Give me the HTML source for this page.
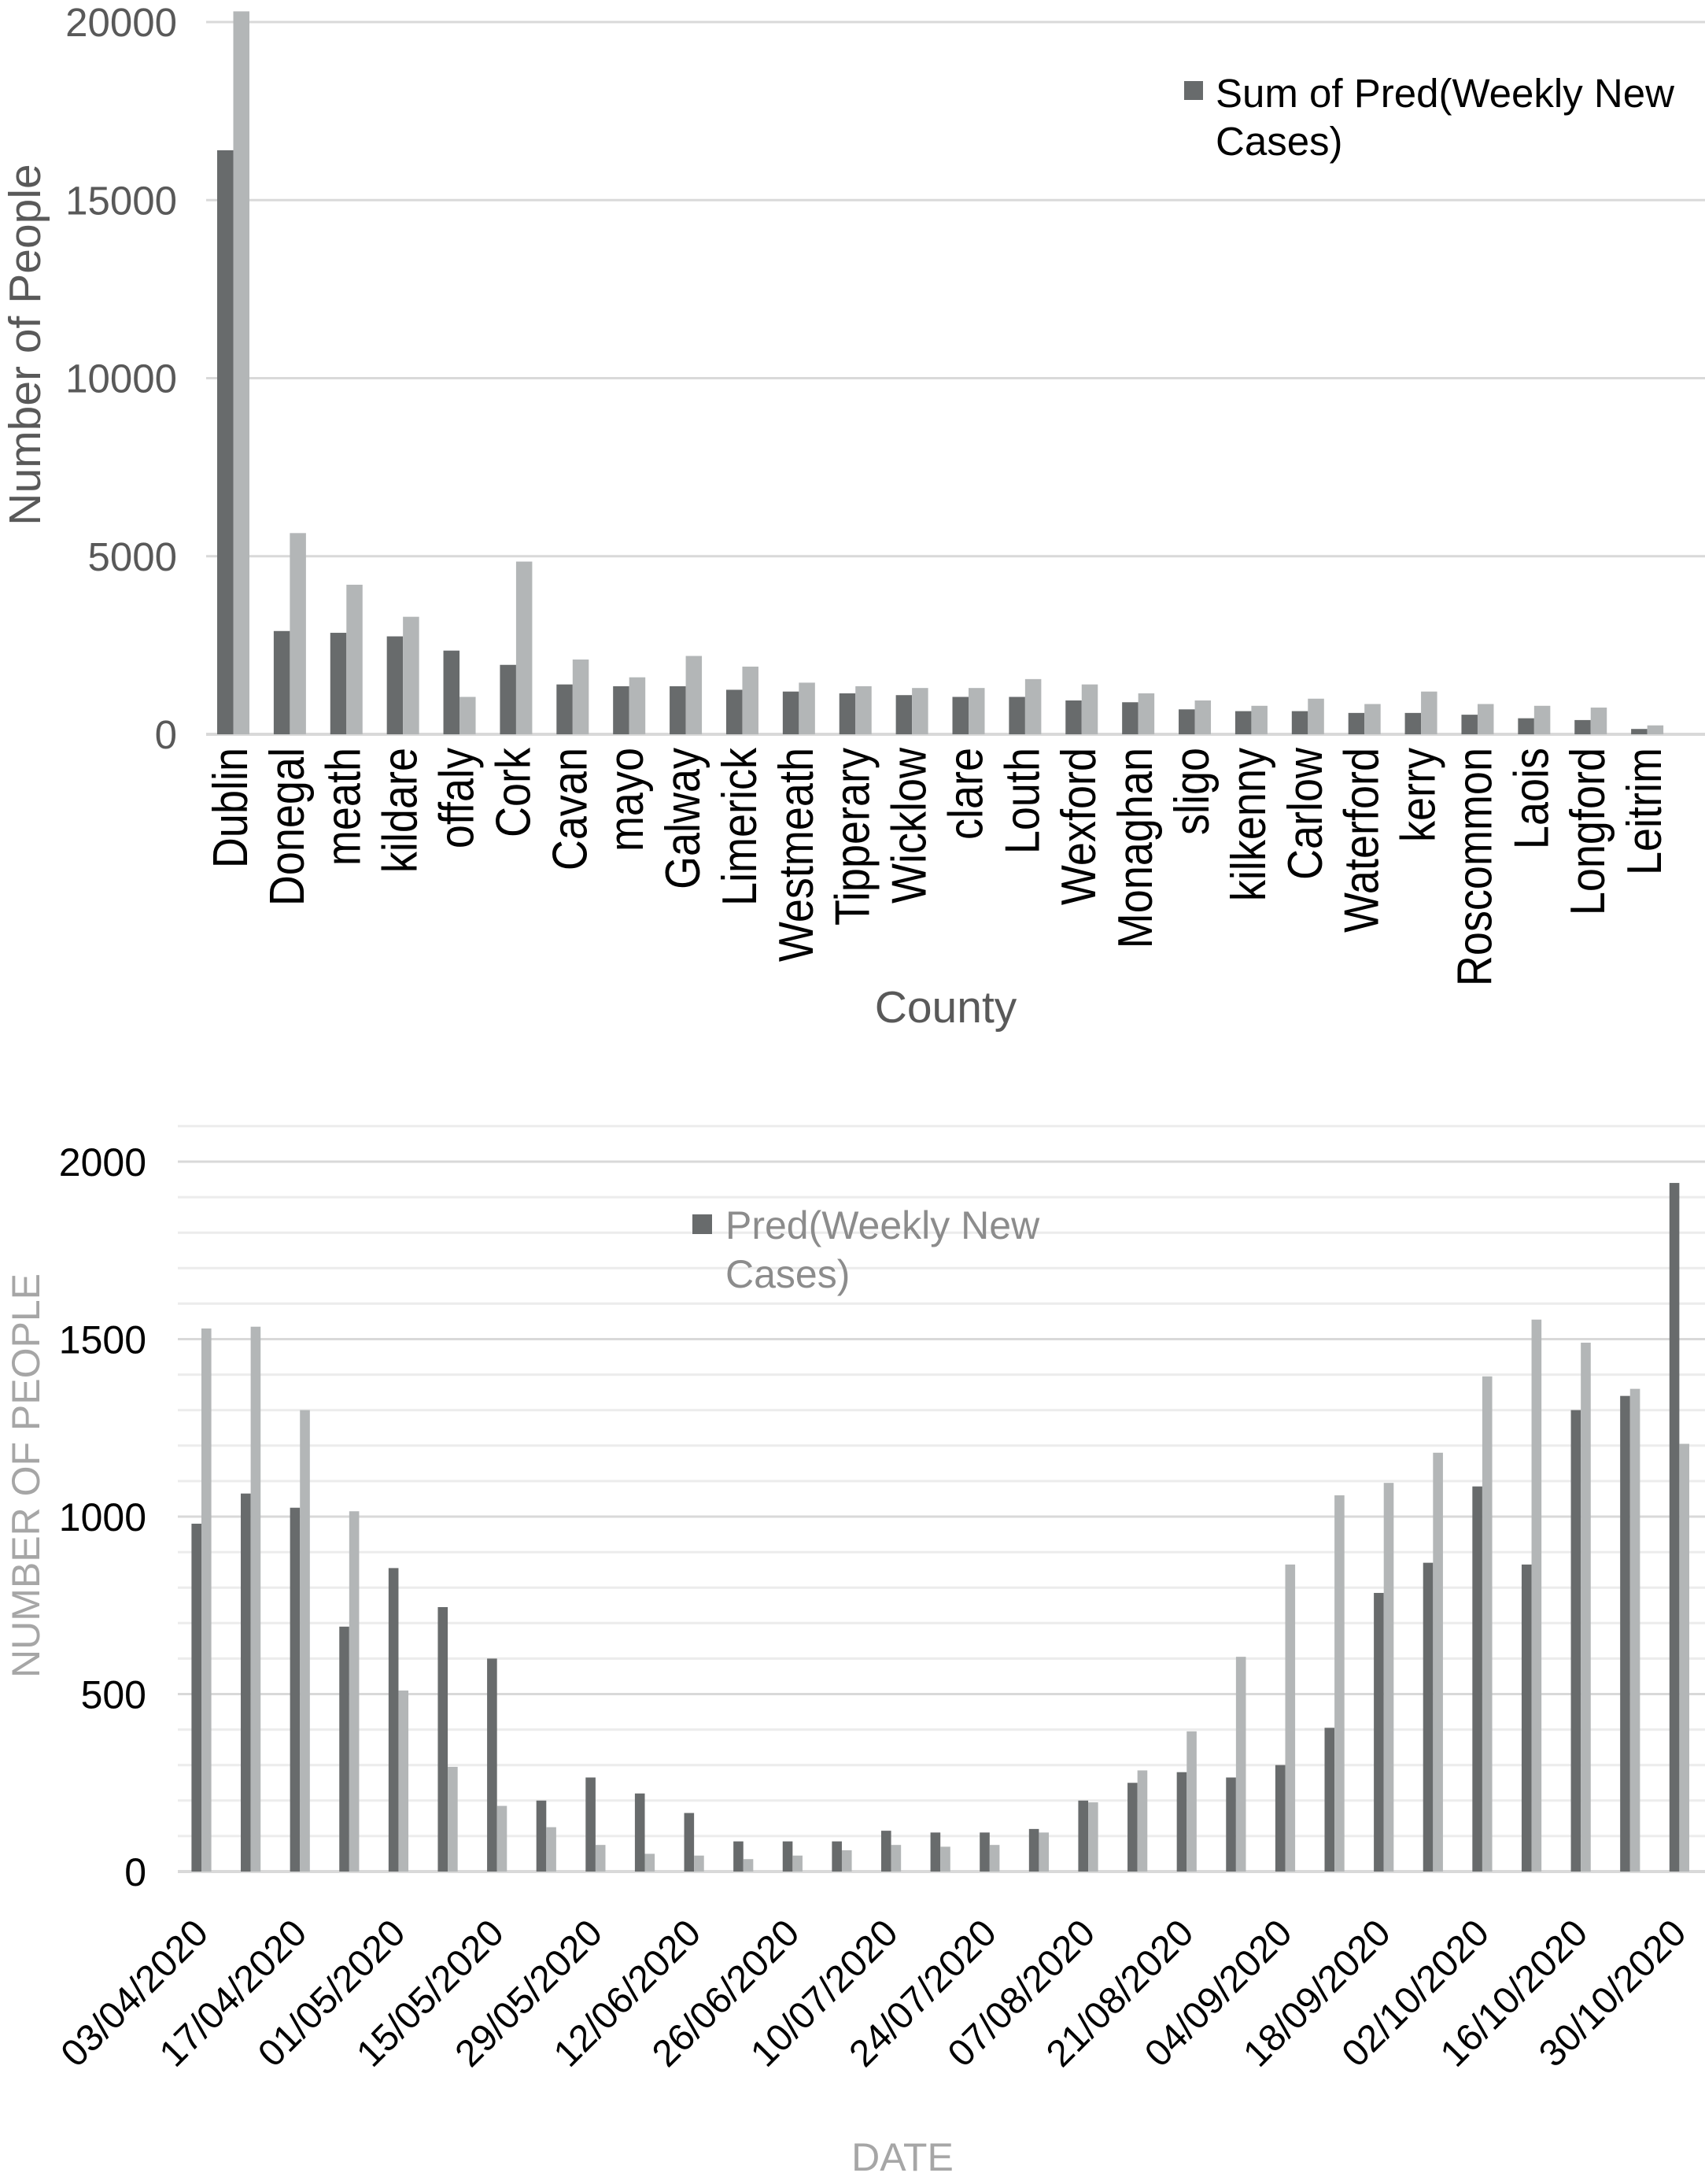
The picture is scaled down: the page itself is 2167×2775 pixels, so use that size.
<!DOCTYPE html>
<html><head><meta charset="utf-8"><style>
html,body{margin:0;padding:0;background:#fff;}
svg{display:block;font-family:"Liberation Sans",Arial,sans-serif;}
</style></head><body>
<svg id="chart" width="2167" height="2775" viewBox="0 0 2167 2775" xmlns="http://www.w3.org/2000/svg">
<g id="topChart"></g>
<g id="bottomChart"></g>
</svg>
<script>
const counties = ["Dublin","Donegal","meath","kildare","offaly","Cork","Cavan","mayo","Galway","Limerick","Westmeath","Tipperary","Wicklow","clare","Louth","Wexford","Monaghan","sligo","kilkenny","Carlow","Waterford","kerry","Roscommon","Laois","Longford","Leitrim"];
const countyPred = [16400,2900,2850,2750,2350,1950,1400,1350,1350,1250,1200,1150,1100,1050,1050,950,900,700,650,650,600,600,550,450,400,150];
const countyActual = [20300,5650,4200,3300,1050,4850,2100,1600,2200,1900,1450,1350,1300,1300,1550,1400,1150,950,800,1000,850,1200,850,800,750,250];
const countyTicks = [0,5000,10000,15000,20000];

const dates = ["03/04/2020","10/04/2020","17/04/2020","24/04/2020","01/05/2020","08/05/2020","15/05/2020","22/05/2020","29/05/2020","05/06/2020","12/06/2020","19/06/2020","26/06/2020","03/07/2020","10/07/2020","17/07/2020","24/07/2020","31/07/2020","07/08/2020","14/08/2020","21/08/2020","28/08/2020","04/09/2020","11/09/2020","18/09/2020","25/09/2020","02/10/2020","09/10/2020","16/10/2020","23/10/2020","30/10/2020"];
const datePred = [980,1065,1025,690,855,745,600,200,265,220,165,85,85,85,115,110,110,120,200,250,280,265,300,405,785,870,1085,865,1300,1340,1940];
const dateActual = [1530,1535,1300,1015,510,295,185,125,75,50,45,35,45,60,75,70,75,110,195,285,395,605,865,1060,1095,1180,1395,1555,1490,1360,1205];
const dateTicks = [0,500,1000,1500,2000];

const NS="http://www.w3.org/2000/svg";
function mk(parent,tag,attrs,text){const e=document.createElementNS(NS,tag);for(const k in attrs)e.setAttribute(k,attrs[k]);if(text!==undefined)e.textContent=text;parent.appendChild(e);return e;}
const DARK="#686b6c", LIGHT="#b3b6b7";

// ---- top chart ----
const topG=document.getElementById('topChart');
const tL=262,tR=2131,t0=933,tTop=28,tMax=20000;
const ty=v=>t0-(v/tMax)*(t0-tTop);
const tStep=(tR-tL)/counties.length;
countyTicks.forEach(v=>{
  const l=mk(topG,'line',{x1:tL,x2:2167,y1:ty(v),y2:ty(v),stroke:"#d9d9d9","stroke-width":v===0?4:3});
  
  
  const t=mk(topG,'text',{x:225,y:ty(v)+18,"text-anchor":"end","font-size":51,fill:"#595959"},String(v));
  
  
});
counties.forEach((c,i)=>{
  const x0=tL+i*tStep;
  const b1=mk(topG,'rect',{x:x0+14,y:ty(countyPred[i]),width:20.5,height:t0-ty(countyPred[i]),fill:DARK});
  
  
  const b2=mk(topG,'rect',{x:x0+34.5,y:ty(countyActual[i]),width:20.5,height:t0-ty(countyActual[i]),fill:LIGHT});
  
  
  const cx=x0+tStep/2+16;
  const t=mk(topG,'text',{transform:`translate(${cx},950) rotate(-90) scale(1,1.15)`,"text-anchor":"end","font-size":54,fill:"#000"},c);
  
  
});
let e;
e=mk(topG,'text',{transform:"translate(51,438) rotate(-90)","text-anchor":"middle","font-size":57,fill:"#595959"},"Number of People");


e=mk(topG,'text',{x:1202,y:1299,"text-anchor":"middle","font-size":57,fill:"#595959"},"County");


e=mk(topG,'rect',{x:1505,y:103,width:24,height:24,fill:DARK});


e=mk(topG,'text',{x:1545,y:136,"font-size":51,fill:"#000"},"Sum of Pred(Weekly New");


e=mk(topG,'text',{x:1545,y:197,"font-size":51,fill:"#000"},"Cases)");



// ---- bottom chart ----
const botG=document.getElementById('bottomChart');
const bL=226,bR=2167,b0=2378,bTop=1476,bMax=2000;
const by=v=>b0-(v/bMax)*(b0-bTop);
const bStep=(bR-bL)/dates.length;
for(let v=100;v<=2100;v+=100){
  if(v%500===0)continue;
  const l=mk(botG,'line',{x1:bL,x2:bR,y1:by(v),y2:by(v),stroke:"#ececec","stroke-width":3});
  
  
}
dateTicks.forEach(v=>{
  const l=mk(botG,'line',{x1:bL,x2:bR,y1:by(v),y2:by(v),stroke:"#d9d9d9","stroke-width":v===0?4:3});
  
  
  const t=mk(botG,'text',{x:186,y:by(v)+18,"text-anchor":"end","font-size":50,fill:"#000"},String(v));
  
  
});
dates.forEach((d,i)=>{
  const x0=bL+i*bStep;
  const b1=mk(botG,'rect',{x:x0+17.4,y:by(datePred[i]),width:12.6,height:b0-by(datePred[i]),fill:DARK});
  
  
  const b2=mk(botG,'rect',{x:x0+30,y:by(dateActual[i]),width:12.6,height:b0-by(dateActual[i]),fill:LIGHT});
  
  
  if(i%2===0){
    const cx=x0+bStep/2+10;
    const t=mk(botG,'text',{transform:`translate(${cx},2459) rotate(-45)`,"text-anchor":"end","font-size":48,fill:"#000"},d);
    
    
  }
});
e=mk(botG,'text',{transform:"translate(50,1875) rotate(-90)","text-anchor":"middle","font-size":50,fill:"#a6a6a6"},"NUMBER OF PEOPLE");


e=mk(botG,'text',{x:1147,y:2758,"text-anchor":"middle","font-size":50,fill:"#a6a6a6"},"DATE");


e=mk(botG,'rect',{x:880,y:1543,width:25,height:25,fill:DARK});


e=mk(botG,'text',{x:922,y:1574,"font-size":50,fill:"#8c8c8c"},"Pred(Weekly New");


e=mk(botG,'text',{x:922,y:1636,"font-size":50,fill:"#8c8c8c"},"Cases)");


</script>
</body></html>
